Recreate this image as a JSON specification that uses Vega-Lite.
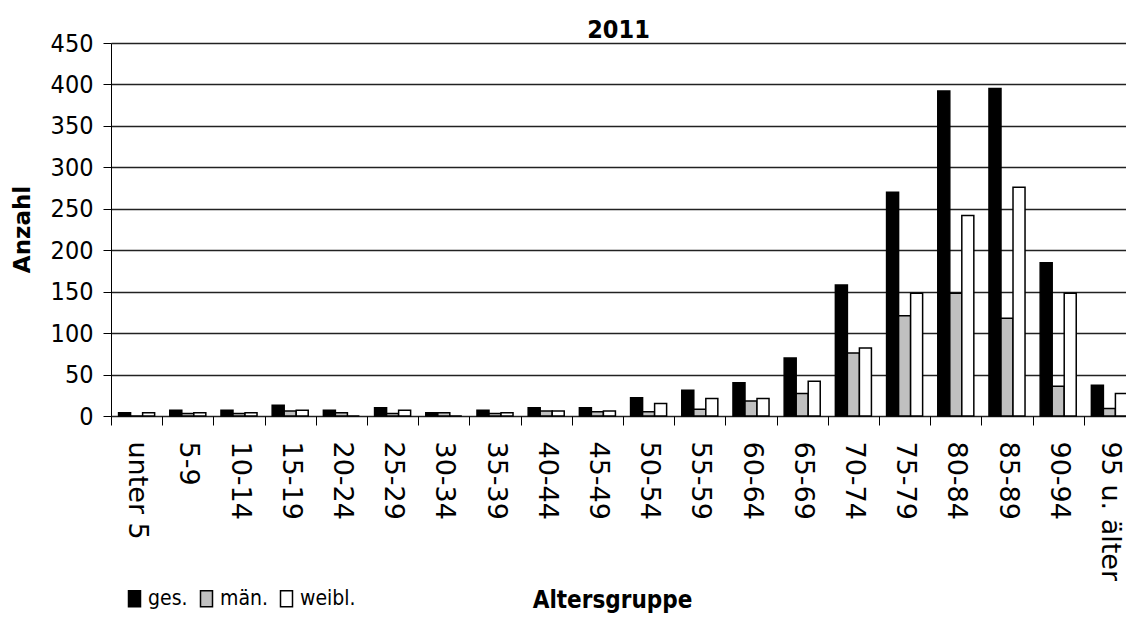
{
  "$schema": "https://vega.github.io/schema/vega-lite/v6.json",
  "width": 1015,
  "height": 373,
  "autosize": {"type": "none"},
  "padding": {"left": 111, "top": 43, "right": 0, "bottom": 205},
  "background": "white",
  "config": {
    "font": "DejaVu Sans Condensed, Liberation Sans, sans-serif",
    "view": {"stroke": null}
  },
  "title": {"text": "2011", "fontSize": 25, "fontWeight": "bold", "anchor": "middle", "offset": 3, "dy": 15, "color": "black"},
  "data": {
    "values": [
      {"gruppe": "unter 5", "geschlecht": "ges.", "anzahl": 4},
      {"gruppe": "unter 5", "geschlecht": "män.", "anzahl": 0},
      {"gruppe": "unter 5", "geschlecht": "weibl.", "anzahl": 4},
      {"gruppe": "5-9", "geschlecht": "ges.", "anzahl": 7},
      {"gruppe": "5-9", "geschlecht": "män.", "anzahl": 3},
      {"gruppe": "5-9", "geschlecht": "weibl.", "anzahl": 4},
      {"gruppe": "10-14", "geschlecht": "ges.", "anzahl": 7},
      {"gruppe": "10-14", "geschlecht": "män.", "anzahl": 3},
      {"gruppe": "10-14", "geschlecht": "weibl.", "anzahl": 4},
      {"gruppe": "15-19", "geschlecht": "ges.", "anzahl": 13},
      {"gruppe": "15-19", "geschlecht": "män.", "anzahl": 6},
      {"gruppe": "15-19", "geschlecht": "weibl.", "anzahl": 7},
      {"gruppe": "20-24", "geschlecht": "ges.", "anzahl": 7},
      {"gruppe": "20-24", "geschlecht": "män.", "anzahl": 4},
      {"gruppe": "20-24", "geschlecht": "weibl.", "anzahl": 0},
      {"gruppe": "25-29", "geschlecht": "ges.", "anzahl": 10},
      {"gruppe": "25-29", "geschlecht": "män.", "anzahl": 3},
      {"gruppe": "25-29", "geschlecht": "weibl.", "anzahl": 7},
      {"gruppe": "30-34", "geschlecht": "ges.", "anzahl": 4},
      {"gruppe": "30-34", "geschlecht": "män.", "anzahl": 4},
      {"gruppe": "30-34", "geschlecht": "weibl.", "anzahl": 0},
      {"gruppe": "35-39", "geschlecht": "ges.", "anzahl": 7},
      {"gruppe": "35-39", "geschlecht": "män.", "anzahl": 3},
      {"gruppe": "35-39", "geschlecht": "weibl.", "anzahl": 4},
      {"gruppe": "40-44", "geschlecht": "ges.", "anzahl": 10},
      {"gruppe": "40-44", "geschlecht": "män.", "anzahl": 6},
      {"gruppe": "40-44", "geschlecht": "weibl.", "anzahl": 6},
      {"gruppe": "45-49", "geschlecht": "ges.", "anzahl": 10},
      {"gruppe": "45-49", "geschlecht": "män.", "anzahl": 5},
      {"gruppe": "45-49", "geschlecht": "weibl.", "anzahl": 6},
      {"gruppe": "50-54", "geschlecht": "ges.", "anzahl": 22},
      {"gruppe": "50-54", "geschlecht": "män.", "anzahl": 5},
      {"gruppe": "50-54", "geschlecht": "weibl.", "anzahl": 15},
      {"gruppe": "55-59", "geschlecht": "ges.", "anzahl": 31},
      {"gruppe": "55-59", "geschlecht": "män.", "anzahl": 8},
      {"gruppe": "55-59", "geschlecht": "weibl.", "anzahl": 21},
      {"gruppe": "60-64", "geschlecht": "ges.", "anzahl": 40},
      {"gruppe": "60-64", "geschlecht": "män.", "anzahl": 18},
      {"gruppe": "60-64", "geschlecht": "weibl.", "anzahl": 21},
      {"gruppe": "65-69", "geschlecht": "ges.", "anzahl": 70},
      {"gruppe": "65-69", "geschlecht": "män.", "anzahl": 27},
      {"gruppe": "65-69", "geschlecht": "weibl.", "anzahl": 42},
      {"gruppe": "70-74", "geschlecht": "ges.", "anzahl": 158},
      {"gruppe": "70-74", "geschlecht": "män.", "anzahl": 76},
      {"gruppe": "70-74", "geschlecht": "weibl.", "anzahl": 82},
      {"gruppe": "75-79", "geschlecht": "ges.", "anzahl": 270},
      {"gruppe": "75-79", "geschlecht": "män.", "anzahl": 121},
      {"gruppe": "75-79", "geschlecht": "weibl.", "anzahl": 148},
      {"gruppe": "80-84", "geschlecht": "ges.", "anzahl": 392},
      {"gruppe": "80-84", "geschlecht": "män.", "anzahl": 148},
      {"gruppe": "80-84", "geschlecht": "weibl.", "anzahl": 242},
      {"gruppe": "85-89", "geschlecht": "ges.", "anzahl": 395},
      {"gruppe": "85-89", "geschlecht": "män.", "anzahl": 118},
      {"gruppe": "85-89", "geschlecht": "weibl.", "anzahl": 276},
      {"gruppe": "90-94", "geschlecht": "ges.", "anzahl": 185},
      {"gruppe": "90-94", "geschlecht": "män.", "anzahl": 36},
      {"gruppe": "90-94", "geschlecht": "weibl.", "anzahl": 148},
      {"gruppe": "95 u. älter", "geschlecht": "ges.", "anzahl": 37},
      {"gruppe": "95 u. älter", "geschlecht": "män.", "anzahl": 9},
      {"gruppe": "95 u. älter", "geschlecht": "weibl.", "anzahl": 27}
    ]
  },
  "mark": {"type": "bar", "stroke": "black", "strokeWidth": 1.5},
  "encoding": {
    "x": {
      "field": "gruppe",
      "type": "nominal",
      "sort": null,
      "scale": {"paddingInner": 0, "paddingOuter": 0, "range": [0, 1024]},
      "axis": {
        "title": "Altersgruppe",
        "titleFontSize": 24,
        "titleFontWeight": "bold",
        "titleColor": "black",
        "titleY": 184,
        "titleX": 501,
        "titleBaseline": "middle",
        "labelAngle": 90,
        "labelAlign": "left",
        "labelBaseline": "middle",
        "labelFont": "DejaVu Sans",
        "labelFontSize": 27,
        "labelColor": "black",
        "labelPadding": 16,
        "tickBand": "extent",
        "tickSize": 9,
        "tickColor": "black",
        "domain": false,
        "grid": false
      }
    },
    "xOffset": {
      "field": "geschlecht",
      "type": "nominal",
      "sort": ["ges.", "män.", "weibl."],
      "scale": {"paddingOuter": 0.63, "paddingInner": 0}
    },
    "y": {
      "field": "anzahl",
      "type": "quantitative",
      "scale": {"domain": [0, 450], "nice": false},
      "axis": {
        "title": "Anzahl",
        "titleFont": "DejaVu Sans",
        "titleFontSize": 23,
        "titleFontWeight": "bold",
        "titleColor": "black",
        "titleX": -89,
        "titleY": 186,
        "titleAlign": "center",
        "titleBaseline": "middle",
        "values": [0, 50, 100, 150, 200, 250, 300, 350, 400, 450],
        "labelFontSize": 25,
        "labelColor": "black",
        "labelPadding": 10,
        "tickSize": 8,
        "tickColor": "black",
        "domainColor": "black",
        "gridColor": "#222222",
        "gridWidth": 1.5,
        "gridOpacity": 1
      }
    },
    "fill": {
      "field": "geschlecht",
      "type": "nominal",
      "scale": {"domain": ["ges.", "män.", "weibl."], "range": ["#000000", "#c0c0c0", "#ffffff"]},
      "legend": {
        "title": null,
        "orient": "none",
        "legendX": 13,
        "legendY": 545,
        "direction": "horizontal",
        "symbolType": "M-0.75,-1H0.75V1H-0.75Z",
        "symbolSize": 256,
        "symbolStrokeColor": "black",
        "symbolStrokeWidth": 1.5,
        "labelFontSize": 21,
        "labelColor": "black",
        "labelOffset": 3,
        "columnPadding": 8
      }
    }
  }
}
